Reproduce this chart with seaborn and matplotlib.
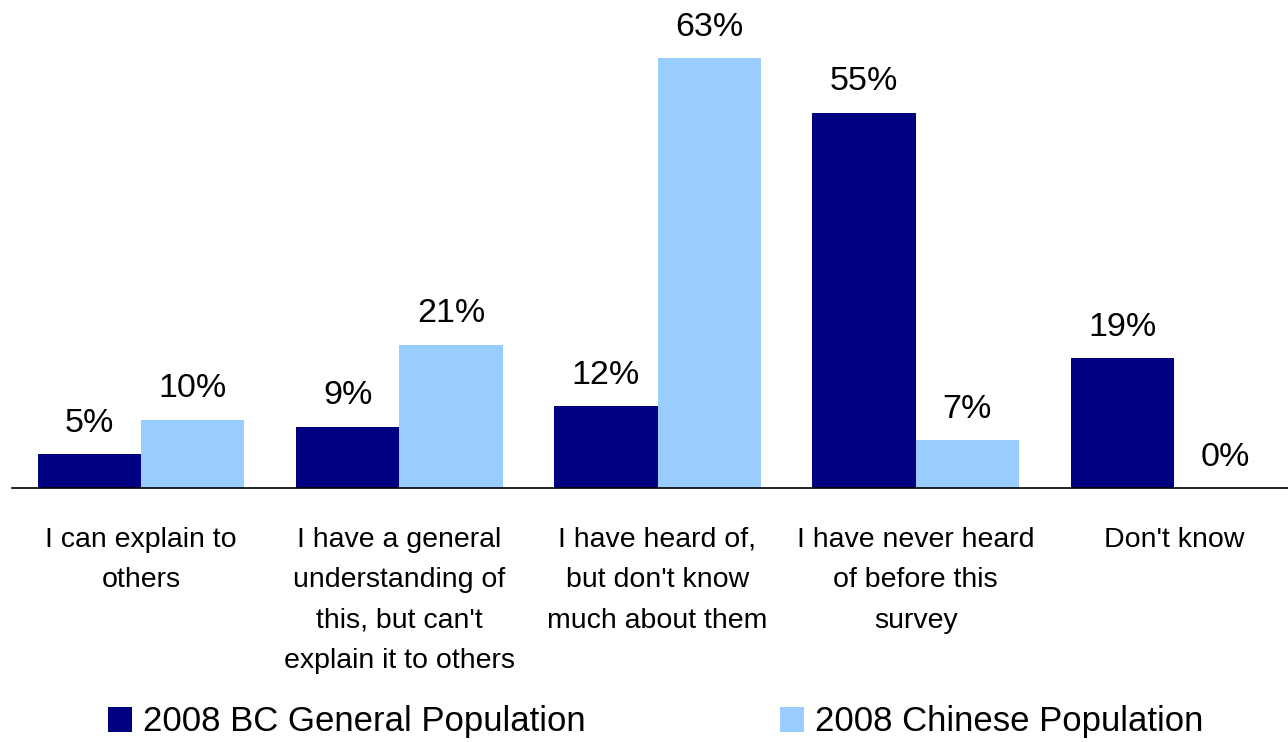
import matplotlib
matplotlib.use("Agg")
import matplotlib.pyplot as plt
import seaborn as sns
import pandas as pd

categories = ["I can explain to\nothers",
              "I have a general\nunderstanding of\nthis, but can't\nexplain it to others",
              "I have heard of,\nbut don't know\nmuch about them",
              "I have never heard\nof before this\nsurvey",
              "Don't know"]
series_names = ["2008 BC General Population", "2008 Chinese Population"]
bc_general = [5, 9, 12, 55, 19]
chinese = [10, 21, 63, 7, 0]
colors = ["#000080", "#99CCFF"]

df = pd.DataFrame({
    "category": categories * 2,
    "series": [series_names[0]] * len(categories) + [series_names[1]] * len(categories),
    "value": bc_general + chinese,
})

sns.set_theme(style="white")
plt.rcParams["font.family"] = ["Liberation Sans", "DejaVu Sans"]
plt.rcParams["text.color"] = "black"

fig = plt.figure(figsize=(12.88, 7.42), dpi=100)
ax = fig.add_axes([12 / 1288, (742 - 488) / 742, 1291 / 1288, 488 / 742])

sns.barplot(data=df, x="category", y="value", hue="series", palette=colors,
            width=0.8, gap=0, saturation=1, linewidth=0, ax=ax, legend=True)

ax.set_ylim(0, 71.5)
ax.set_xlim(-0.5, 4.5)
for c in ax.containers:
    ax.bar_label(c, labels=[f"{v:.0f}%" for v in c.datavalues], padding=11, fontsize=24.5, color="black")

ax.set_xlabel("")
ax.set_ylabel("")
ax.set_yticks([])
ax.tick_params(axis="x", length=0, pad=28, labelsize=20.5, colors="black")
for lbl in ax.get_xticklabels():
    lbl.set_linespacing(1.72)
    lbl.set_verticalalignment("top")
for s in ["top", "right", "left"]:
    ax.spines[s].set_visible(False)
ax.spines["bottom"].set_color("black")
ax.spines["bottom"].set_linewidth(1.2)

handles, labels = ax.get_legend_handles_labels()
ax.get_legend().remove()
leg = fig.legend(handles, labels, loc="center", bbox_to_anchor=(0.509, 1 - 722 / 742), ncol=2,
                 frameon=False, fontsize=25, handlelength=0.7, handleheight=0.7,
                 handletextpad=0.3, columnspacing=5.6)
for t in leg.get_texts():
    t.set_color("black")

fig.savefig("out.png", dpi=100)
